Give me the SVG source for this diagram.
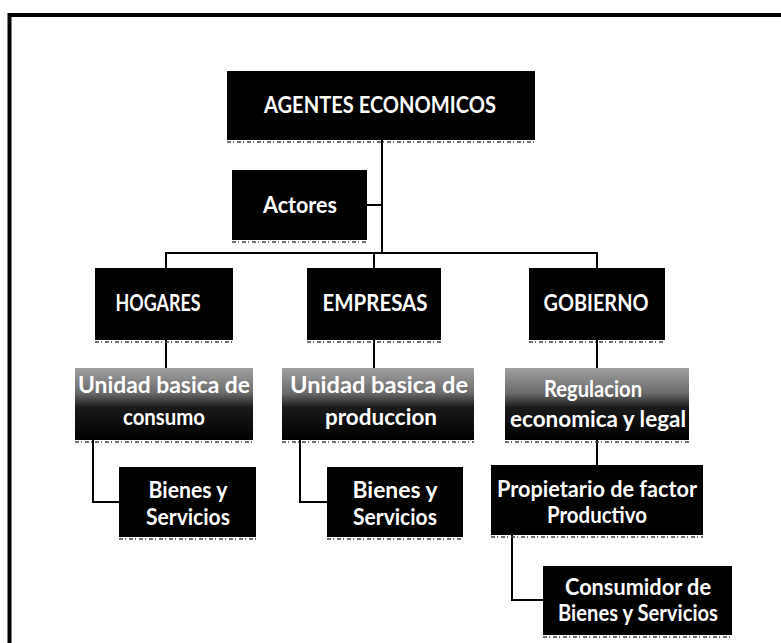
<svg xmlns="http://www.w3.org/2000/svg" width="781" height="643" viewBox="0 0 781 643">
<style>
.box{fill:#000}
.gbox{fill:url(#grad)}
.t{font-family:Lato,"Liberation Sans",sans-serif;font-weight:700;font-size:22px;fill:#fff;text-anchor:middle}
.c{fill:none;stroke:#000;stroke-width:2}
.sh{stroke:#444;stroke-width:1.5;stroke-dasharray:4 2 1 3;fill:none}
</style>
<defs>
<linearGradient id="grad" x1="0" y1="0" x2="0" y2="1">
<stop offset="0" stop-color="#a0a0a0"/>
<stop offset="0.35" stop-color="#6a6a6a"/>
<stop offset="0.55" stop-color="#1a1a1a"/>
<stop offset="1" stop-color="#000"/>
</linearGradient>
</defs>
<rect x="0" y="0" width="781" height="643" fill="#fff"/>
<path d="M9.5 660 V15 H781" fill="none" stroke="#000" stroke-width="4"/>
<g id="connectors">
<path class="c" d="M382 140 V253"/>
<path class="c" d="M367 205 H382"/>
<path class="c" d="M166 268 V253 H597 V268"/>
<path class="c" d="M374 253 V268"/>
<path class="c" d="M166 340 V368"/>
<path class="c" d="M374 340 V368"/>
<path class="c" d="M597 340 V368"/>
<path class="c" d="M93 440 V502 H119"/>
<path class="c" d="M300 440 V502 H327"/>
<path class="c" d="M597 440 V465"/>
<path class="c" d="M512 535 V600 H543"/>
</g>
<g id="n-agentes">
<rect class="box" x="227" y="71" width="308" height="69"/>
<path class="sh" d="M227 142 H535"/>
<text class="t" x="380" y="113" textLength="232" lengthAdjust="spacingAndGlyphs">AGENTES ECONOMICOS</text>
</g>
<g id="n-actores">
<rect class="box" x="232" y="170" width="135" height="70"/>
<path class="sh" d="M232 242 H367"/>
<text class="t" x="300" y="213" textLength="74" lengthAdjust="spacingAndGlyphs">Actores</text>
</g>
<g id="n-hogares">
<rect class="box" x="95" y="268" width="138" height="72"/>
<path class="sh" d="M95 342 H233"/>
<text class="t" x="158" y="311" textLength="85" lengthAdjust="spacingAndGlyphs">HOGARES</text>
</g>
<g id="n-empresas">
<rect class="box" x="307" y="268" width="134" height="72"/>
<path class="sh" d="M307 342 H441"/>
<text class="t" x="375" y="311" textLength="105" lengthAdjust="spacingAndGlyphs">EMPRESAS</text>
</g>
<g id="n-gobierno">
<rect class="box" x="529" y="268" width="136" height="72"/>
<path class="sh" d="M529 342 H665"/>
<text class="t" x="596" y="311" textLength="105" lengthAdjust="spacingAndGlyphs">GOBIERNO</text>
</g>
<g id="n-unidad-consumo">
<rect class="gbox" x="75" y="368" width="178" height="72"/>
<path class="sh" d="M75 442 H253"/>
<text class="t" x="164" y="393" textLength="172" lengthAdjust="spacingAndGlyphs">Unidad basica de</text>
<text class="t" x="164" y="425" textLength="82" lengthAdjust="spacingAndGlyphs">consumo</text>
</g>
<g id="n-unidad-produccion">
<rect class="gbox" x="282" y="368" width="192" height="72"/>
<path class="sh" d="M282 442 H474"/>
<text class="t" x="379" y="393" textLength="178" lengthAdjust="spacingAndGlyphs">Unidad basica de</text>
<text class="t" x="381" y="425" textLength="112" lengthAdjust="spacingAndGlyphs">produccion</text>
</g>
<g id="n-regulacion">
<rect class="gbox" x="505" y="368" width="184" height="72"/>
<path class="sh" d="M505 442 H689"/>
<text class="t" x="593" y="397" textLength="98" lengthAdjust="spacingAndGlyphs">Regulacion</text>
<text class="t" x="598" y="427" textLength="176" lengthAdjust="spacingAndGlyphs">economica y legal</text>
</g>
<g id="n-bienes1">
<rect class="box" x="119" y="467" width="137" height="70"/>
<path class="sh" d="M119 539 H256"/>
<text class="t" x="188" y="498" textLength="79" lengthAdjust="spacingAndGlyphs">Bienes y</text>
<text class="t" x="188" y="525" textLength="84" lengthAdjust="spacingAndGlyphs">Servicios</text>
</g>
<g id="n-bienes2">
<rect class="box" x="327" y="467" width="136" height="70"/>
<path class="sh" d="M327 539 H463"/>
<text class="t" x="395" y="498" textLength="85" lengthAdjust="spacingAndGlyphs">Bienes y</text>
<text class="t" x="395" y="525" textLength="84" lengthAdjust="spacingAndGlyphs">Servicios</text>
</g>
<g id="n-propietario">
<rect class="box" x="491" y="465" width="212" height="70"/>
<path class="sh" d="M491 537 H703"/>
<text class="t" x="597" y="497" textLength="200" lengthAdjust="spacingAndGlyphs">Propietario de factor</text>
<text class="t" x="597" y="523" textLength="100" lengthAdjust="spacingAndGlyphs">Productivo</text>
</g>
<g id="n-consumidor">
<rect class="box" x="543" y="566" width="189" height="69"/>
<path class="sh" d="M543 637 H732"/>
<text class="t" x="638" y="595" textLength="146" lengthAdjust="spacingAndGlyphs">Consumidor de</text>
<text class="t" x="638" y="621" textLength="160" lengthAdjust="spacingAndGlyphs">Bienes y Servicios</text>
</g>
</svg>
